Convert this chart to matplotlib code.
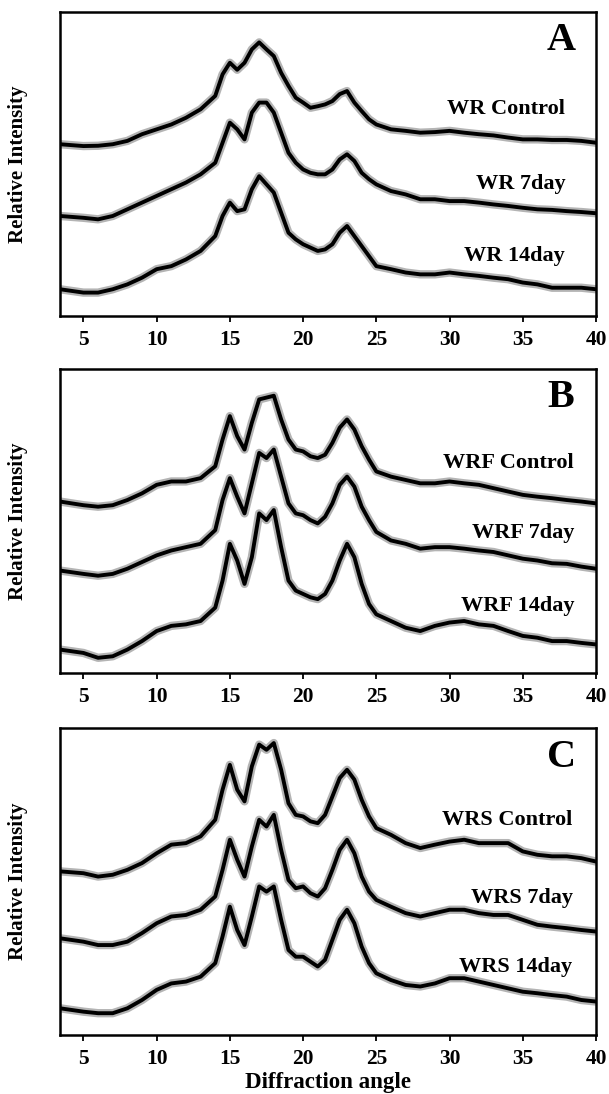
import matplotlib
matplotlib.use("Agg")
import matplotlib.pyplot as plt

# diffraction angle grid (2-theta, degrees)
angle = [3.4, 5, 6, 7, 8, 9, 10, 11, 12, 13, 14, 14.5, 15, 15.5, 16, 16.5, 17, 17.5,
         18, 18.5, 19, 19.5, 20, 20.5, 21, 21.5, 22, 22.5, 23, 23.5, 24, 24.5, 25,
         26, 27, 28, 29, 30, 31, 32, 33, 34, 35, 36, 37, 38, 39, 40]

# Panel A (relative intensity, stacked, arbitrary units)
wr_control = [56.5, 55.9, 56.0, 56.5, 57.6, 59.8, 61.4, 63.0, 65.2, 68.0, 72.4, 79.5, 83.3, 81.0,
              83.3, 87.7, 90.0, 87.7, 85.5, 80.0, 75.7, 71.8, 70.2, 68.5, 69.0, 69.6, 70.7, 73.0,
              74.0, 70.2, 67.4, 64.7, 63.0, 61.4, 60.9, 60.3, 60.5, 60.9, 60.3, 59.8, 59.4, 58.7,
              58.1, 58.1, 57.9, 57.9, 57.6, 57.0]
wr_7day = [32.9, 32.3, 31.8, 32.9, 35.1, 37.3, 39.5, 41.7, 43.9, 46.6, 50.4, 57.0, 63.6, 61.4,
           58.1, 66.9, 70.2, 70.2, 66.9, 60.3, 53.7, 50.4, 48.2, 47.1, 46.6, 46.6, 48.2, 51.5,
           53.2, 51.0, 47.1, 45.0, 43.3, 41.1, 40.0, 38.4, 38.4, 37.8, 37.8, 37.3, 36.7, 36.2,
           35.6, 35.1, 34.9, 34.5, 34.2, 33.8]
wr_14day = [8.8, 7.7, 7.7, 8.8, 10.4, 12.6, 15.4, 16.4, 18.6, 21.4, 26.3, 32.9, 37.3, 34.5,
            35.1, 41.7, 46.0, 43.3, 40.6, 34.0, 27.4, 25.2, 23.6, 22.5, 21.4, 21.9, 23.6, 27.4,
            29.6, 26.3, 23.0, 19.7, 16.4, 15.4, 14.3, 13.7, 13.7, 14.3, 13.7, 13.2, 12.6, 12.1,
            11.0, 10.4, 9.3, 9.3, 9.3, 8.8]

# Panel B
wrf_control = [56.4, 55.2, 54.7, 55.2, 56.9, 59.1, 61.9, 63.0, 63.0, 64.1, 68.0, 76.8, 84.5, 77.9,
               73.5, 82.3, 90.0, 90.6, 91.2, 83.4, 76.8, 73.5, 72.9, 71.3, 70.7, 71.8, 75.7, 80.7,
               83.4, 80.1, 74.6, 70.2, 66.3, 64.6, 63.5, 62.4, 62.4, 63.0, 62.4, 61.9, 60.8, 59.7,
               58.6, 58.0, 57.5, 56.9, 56.4, 55.8]
wrf_7day = [33.7, 32.6, 32.0, 32.6, 34.3, 36.5, 38.7, 40.3, 41.4, 42.5, 47.0, 56.9, 64.1, 58.0,
            52.5, 62.4, 72.4, 70.7, 73.5, 64.6, 55.8, 52.5, 51.9, 50.3, 49.2, 51.4, 55.8, 61.9,
            64.6, 61.3, 54.7, 50.3, 46.4, 43.6, 42.5, 40.9, 41.4, 41.4, 40.9, 40.3, 39.8, 38.7,
            37.6, 37.0, 36.1, 35.9, 35.0, 34.3]
wrf_14day = [7.7, 6.6, 5.0, 5.5, 7.7, 10.5, 13.8, 15.5, 16.0, 17.1, 21.5, 30.4, 42.5, 37.0,
             29.3, 38.1, 52.5, 50.3, 53.6, 41.4, 30.4, 27.1, 26.0, 24.9, 24.3, 26.0, 30.4, 37.0,
             42.5, 38.1, 29.3, 22.7, 19.3, 17.1, 14.9, 13.8, 15.5, 16.6, 17.1, 16.0, 15.5, 13.8,
             12.2, 11.6, 10.5, 10.5, 9.9, 9.4]

# Panel C
wrs_control = [53.3, 52.7, 51.6, 52.2, 53.8, 56.0, 59.2, 62.0, 62.5, 64.7, 70.1, 79.9, 88.0, 79.9,
               76.1, 87.5, 94.6, 92.9, 95.1, 86.4, 75.5, 71.7, 71.2, 69.6, 69.0, 71.7, 77.7, 83.7,
               86.4, 83.2, 76.6, 71.2, 67.4, 65.2, 62.5, 60.9, 62.0, 63.0, 63.6, 62.5, 62.5, 62.5,
               59.8, 58.7, 58.2, 58.2, 57.6, 56.5]
wrs_7day = [31.5, 30.4, 29.3, 29.3, 30.4, 33.2, 36.4, 38.6, 39.1, 40.8, 45.1, 53.8, 63.6, 57.1,
            51.6, 61.4, 70.1, 67.9, 71.7, 60.3, 50.5, 47.8, 48.4, 46.2, 45.1, 47.8, 53.8, 60.3,
            63.6, 59.2, 51.6, 46.7, 44.0, 41.8, 39.7, 38.6, 39.7, 40.8, 40.8, 39.7, 39.1, 39.1,
            37.5, 35.9, 35.3, 34.8, 34.2, 33.7]
wrs_14day = [8.7, 7.6, 7.1, 7.1, 8.7, 11.4, 14.7, 16.8, 17.4, 19.0, 23.4, 32.1, 41.8, 34.2,
             29.3, 38.6, 48.4, 46.7, 48.4, 37.5, 27.7, 25.5, 25.5, 23.9, 22.3, 24.5, 31.0, 37.5,
             40.8, 36.4, 28.8, 23.4, 20.1, 17.9, 16.3, 15.8, 16.8, 18.5, 18.5, 17.4, 16.3, 15.2,
             14.1, 13.6, 13.0, 12.5, 11.4, 10.9]

panel_letters = ["A", "B", "C"]
series_names = [["WR Control", "WR 7day", "WR 14day"],
                ["WRF Control", "WRF 7day", "WRF 14day"],
                ["WRS Control", "WRS 7day", "WRS 14day"]]
series_data = [[wr_control, wr_7day, wr_14day],
               [wrf_control, wrf_7day, wrf_14day],
               [wrs_control, wrs_7day, wrs_14day]]
label_y = [[68.2, 43.3, 19.7], [69.0, 45.9, 22.1], [70.1, 44.6, 22.3]]
label_x = [37.9, 38.5, 38.4]
xticks = [5, 10, 15, 20, 25, 30, 35, 40]

FONT = "Liberation Serif"
W, H = 609, 1094
fig = plt.figure(figsize=(W / 100, H / 100), dpi=100)

# axes boxes in pixel coords (left, top, right, bottom)
boxes = [(60, 12, 596, 316), (60, 369, 596, 673), (60, 728, 596, 1035)]

for i, (l, t, r, b) in enumerate(boxes):
    ax = fig.add_axes([l / W, (H - b) / H, (r - l) / W, (b - t) / H])
    for j, ys in enumerate(series_data[i]):
        ax.plot(angle, ys, color="#444444", lw=6.0, alpha=0.4, solid_joinstyle="round")
        ax.plot(angle, ys, color="black", lw=2.8, solid_joinstyle="round")
        ax.text(label_x[i], label_y[i][j], series_names[i][j], ha="right", va="center",
                fontsize=16, fontweight="bold", family=FONT)
    ax.text(0.935, 0.905, panel_letters[i], transform=ax.transAxes, ha="center", va="center",
            fontsize=29, fontweight="bold", family=FONT)
    ax.set_xlim(3.4, 40)
    ax.set_ylim(0, 100)
    ax.set_yticks([])
    ax.set_xticks(xticks)
    ax.set_xticklabels([str(v) for v in xticks], fontsize=15.5, fontweight="bold", family=FONT)
    ax.tick_params(axis="x", direction="out", length=4, width=1.3, pad=6)
    for s in ax.spines.values():
        s.set_linewidth(1.8)
    ax.set_ylabel("Relative Intensity", fontsize=15, fontweight="bold", family=FONT, labelpad=23)
    if i == 2:
        ax.set_xlabel("Diffraction angle", fontsize=16.5, fontweight="bold", family=FONT, labelpad=2)

fig.savefig("out.png", dpi=100)
